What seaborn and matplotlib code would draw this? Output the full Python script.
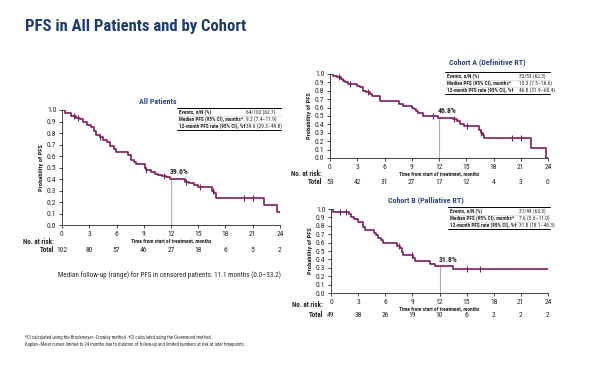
import numpy as np
import pandas as pd
import seaborn as sns
import matplotlib.pyplot as plt
from matplotlib.lines import Line2D
from matplotlib import font_manager as fm

# Kaplan-Meier step data
all_time = [0, 0.3, 1.0, 1.5, 2.0, 2.3, 2.7, 3.2, 3.5, 3.7, 4.2, 4.5, 5.0, 5.3, 5.7, 5.9,
            7.3, 7.6, 7.9, 8.1, 9.1, 9.3, 9.8, 10.2, 10.6, 11.0, 11.5, 11.9, 13.5, 14.0,
            14.5, 15.0, 16.5, 16.7, 17.0, 22.2, 23.7, 24.0]
all_surv = [1.0, 0.97, 0.95, 0.93, 0.92, 0.90, 0.87, 0.85, 0.82, 0.78, 0.77, 0.74, 0.72, 0.69,
            0.66, 0.635, 0.61, 0.57, 0.55, 0.535, 0.50, 0.48, 0.465, 0.45, 0.44, 0.43, 0.42,
            0.40, 0.38, 0.365, 0.35, 0.335, 0.30, 0.28, 0.24, 0.18, 0.12, 0.12]
all_cens = [1.3, 1.8, 4.2, 9.3, 11.2, 13.7, 15.2, 16.6, 20.0, 21.0]

a_time = [0, 0.3, 0.8, 1.2, 1.4, 1.6, 2.0, 3.0, 3.3, 3.6, 4.0, 4.4, 4.6, 5.5, 7.6, 8.0,
          9.0, 9.3, 9.5, 9.7, 10.2, 11.9, 13.5, 14.0, 14.3, 14.8, 16.4, 16.6, 16.8, 17.0,
          22.1, 23.8, 24.0]
a_surv = [1.0, 0.98, 0.96, 0.94, 0.92, 0.90, 0.88, 0.86, 0.84, 0.80, 0.78, 0.76, 0.74, 0.68,
          0.64, 0.62, 0.60, 0.58, 0.56, 0.53, 0.50, 0.48, 0.46, 0.44, 0.41, 0.38, 0.33, 0.30,
          0.27, 0.24, 0.12, 0.0, 0.0]
a_cens = [1.0, 2.2, 4.2, 11.3, 13.6, 15.1, 16.6, 20.0, 21.0]

b_time = [0, 0.2, 2.0, 2.2, 2.5, 3.0, 3.5, 3.8, 4.8, 5.0, 5.2, 5.5, 5.8, 7.3, 7.6, 7.8,
          8.0, 9.1, 9.3, 11.0, 11.5, 13.5, 24.0]
b_surv = [1.0, 0.96, 0.94, 0.91, 0.88, 0.85, 0.79, 0.75, 0.72, 0.69, 0.66, 0.63, 0.60, 0.56,
          0.53, 0.49, 0.45, 0.42, 0.38, 0.35, 0.32, 0.29, 0.29]
b_cens = [1.0, 1.7, 7.5, 9.0, 15.0, 16.5]

ticks_x = [0, 3, 6, 9, 12, 15, 18, 21, 24]
risk_all = [102, 80, 57, 46, 27, 18, 6, 5, 2]
risk_a = [53, 42, 31, 27, 17, 12, 4, 3, 0]
risk_b = [49, 38, 26, 19, 10, 6, 2, 2, 2]

stats_labels = ["Events, n/N (%)", "Median PFS (95% CI), months*", "12-month PFS rate (95% CI), %\u2020"]
stats_all = ["64/102 (62.7)", "9.2 (7.4\u201311.9)", "39.6 (29.3\u201349.8)"]
stats_a = ["33/53 (62.3)", "10.3 (7.5\u201316.6)", "46.8 (31.9\u201360.4)"]
stats_b = ["31/49 (63.3)", "7.6 (5.6\u201311.0)", "31.8 (18.1\u201346.3)"]

sns.set_style("ticks")
installed = {f.name for f in fm.fontManager.ttflist}
narrow = [f for f in ['Liberation Sans Narrow', 'Roboto Condensed', 'Archivo Narrow',
                      'PT Sans Narrow', 'Open Sans Condensed'] if f in installed]
plt.rcParams['font.family'] = narrow[:1] + ['Liberation Sans', 'DejaVu Sans']

KM = '#7d1d5f'
NAVY = '#1c3b6e'
W, H = 600, 365

fig = plt.figure(figsize=(6, 3.65), dpi=100)


def fx(px):
    return px / W


def fy(py):
    return 1 - py / H


def km_panel(rect, time, surv, cens, pct, title, title_xy, risk, risk_y, stats, tab):
    ax = fig.add_axes(rect)
    df = pd.DataFrame({'t': time, 's': surv})
    sns.lineplot(data=df, x='t', y='s', drawstyle='steps-post', color=KM, lw=1.2, ax=ax)
    # censor marks on the step curve
    cs = [surv[np.searchsorted(time, c, side='right') - 1] for c in cens]
    sns.scatterplot(x=cens, y=cs, marker='|', s=20, color=KM, linewidth=0.8, ax=ax, zorder=4)
    s12 = surv[np.searchsorted(time, 12, side='right') - 1]
    ax.plot([12, 12], [0, s12], color='#b0b0b0', lw=0.8, zorder=1)
    ax.text(11.9, s12 + 0.04, pct, fontsize=5.5, fontweight='bold', ha='left', va='bottom')
    ax.set_xlim(0, 24)
    ax.set_ylim(0, 1.0)
    ax.set_xticks(ticks_x)
    ax.set_yticks(np.arange(0, 1.01, 0.1))
    ax.set_yticklabels([f'{v:.1f}' for v in np.arange(0, 1.01, 0.1)])
    ax.tick_params(labelsize=5.5, length=2.5, width=0.6, pad=1.5)
    for sp in ['top', 'right']:
        ax.spines[sp].set_visible(False)
    for sp in ['left', 'bottom']:
        ax.spines[sp].set_linewidth(0.6)
    ax.set_xlabel('Time from start of treatment, months', fontsize=3.9, fontweight='bold', labelpad=1)
    ax.set_ylabel('Probability of PFS', fontsize=4.6, fontweight='bold', labelpad=2)
    fig.text(fx(title_xy[0]), fy(title_xy[1]), title, fontsize=5.8, fontweight='bold',
             color='#2b4787', ha='center', va='center')
    # number at risk
    x0 = rect[0] * W
    x1 = (rect[0] + rect[2]) * W
    fig.text(fx(x0 - 8), fy(risk_y[0]), 'No. at risk:', fontsize=5.0, fontweight='bold', ha='right', va='center')
    fig.text(fx(x0 - 8), fy(risk_y[1]), 'Total', fontsize=5.0, fontweight='bold', ha='right', va='center')
    for t, n in zip(ticks_x, risk):
        fig.text(fx(x0 + (x1 - x0) * t / 24), fy(risk_y[1]), str(n), fontsize=5.5, ha='center', va='center')
    # stats table
    tx0, tx1, ty0, col2 = tab
    rows = [ty0 + 4 + 7.3 * i for i in range(3)]
    fig.add_artist(Line2D([fx(tx0), fx(tx1)], [fy(ty0), fy(ty0)], color='black', lw=0.7))
    for i, (lab, val) in enumerate(zip(stats_labels, stats)):
        fig.text(fx(tx0 + 2), fy(rows[i]), lab, fontsize=3.8, fontweight='bold', ha='left', va='center')
        fig.text(fx(col2), fy(rows[i]), val, fontsize=3.9, ha='left', va='center')
        yl = rows[i] + 3.6
        fig.add_artist(Line2D([fx(tx0), fx(tx1)], [fy(yl), fy(yl)],
                              color='black' if i == 2 else '#cccccc', lw=0.7 if i == 2 else 0.4))
    return ax


km_panel([fx(62), fy(225.5), fx(280) - fx(62), fy(110) - fy(225.5)],
         all_time, all_surv, all_cens, '39.6%', 'All Patients', (158, 101),
         risk_all, (242, 249.5), stats_all, (177, 281, 108, 246))
km_panel([fx(330), fy(158), fx(548) - fx(330), fy(74) - fy(158)],
         a_time, a_surv, a_cens, '46.8%', 'Cohort A (Definitive RT)', (487, 62),
         risk_a, (174, 182), stats_a, (445, 550, 72, 519))
km_panel([fx(331), fy(293), fx(548) - fx(331), fy(209) - fy(293)],
         b_time, b_surv, b_cens, '31.8%', 'Cohort B (Palliative RT)', (426, 200),
         risk_b, (305, 315), stats_b, (448, 550, 207, 519))

fig.text(fx(25), fy(27), 'PFS in All Patients and by Cohort', fontsize=12, fontweight='bold',
         color=NAVY, ha='left', va='center')
fig.text(fx(169), fy(275), 'Median follow-up (range) for PFS in censored patients: 11.1 months (0.0\u201333.2)',
         fontsize=5.1, ha='center', va='center')
fig.text(fx(25), fy(337), '*CI calculated using the Brookmeyer\u2013Crowley method. \u2020CI calculated using the Greenwood method.',
         fontsize=3.4, ha='left', va='center', color='#333333')
fig.text(fx(25), fy(344), 'Kaplan\u2013Meier curves limited to 24 months due to duration of follow-up and limited numbers at risk at later timepoints.',
         fontsize=3.4, ha='left', va='center', color='#333333')

fig.savefig('out.png', dpi=100)
